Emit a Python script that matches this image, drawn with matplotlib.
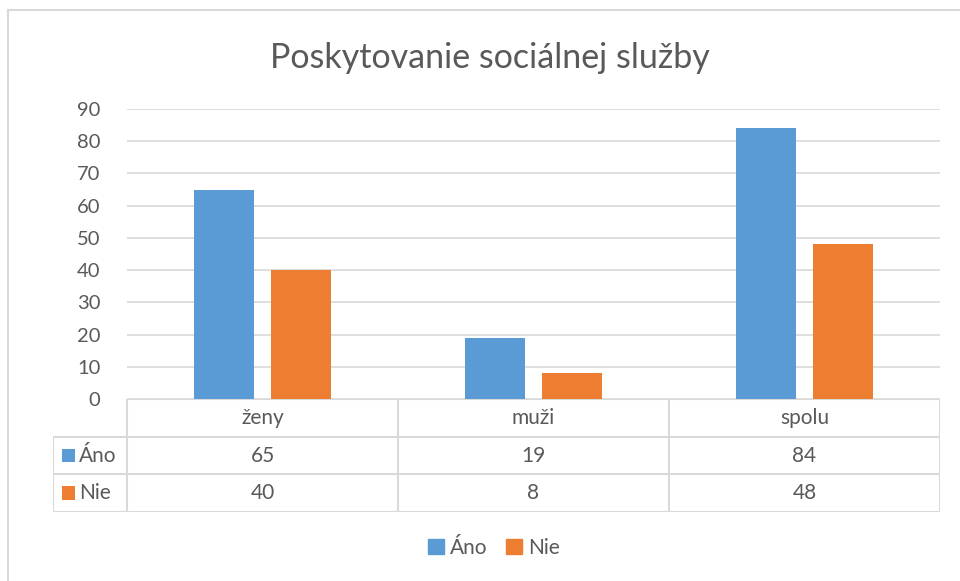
import numpy as np
import matplotlib.pyplot as plt
from matplotlib.lines import Line2D
from matplotlib.patches import Patch

plt.rcParams['font.family'] = ['Lato', 'DejaVu Sans']

# data
categories = ['ženy', 'muži', 'spolu']
series_names = ['Áno', 'Nie']
ano = [65, 19, 84]
nie = [40, 8, 48]
yticks = [0, 10, 20, 30, 40, 50, 60, 70, 80, 90]

blue = '#5B9BD5'
orange = '#ED7D31'
grid_c = '#D9D9D9'
text_c = '#595959'

W, H = 960, 581
fig = plt.figure(figsize=(W / 100, H / 100), dpi=100)


def fx(px):
    return px / W


def fy(py):
    return 1 - py / H


# main plot area
ax = fig.add_axes([fx(127), fy(399), fx(940) - fx(127), fy(109) - fy(399)])
x = np.arange(len(categories))
bw = 0.221
off = 0.142
ax.bar(x - off, ano, bw, color=blue, zorder=3)
ax.bar(x + off, nie, bw, color=orange, zorder=3)
ax.set_xlim(-0.5, len(categories) - 0.5)
ax.set_ylim(0, 90)
ax.set_yticks(yticks)
ax.set_xticks([])
ax.yaxis.grid(True, color=grid_c, lw=1.2)
ax.tick_params(axis='y', length=0, pad=19, labelsize=14.5, labelcolor=text_c)
for s in ax.spines.values():
    s.set_visible(False)

# data table below the plot
tab = fig.add_axes([fx(53), fy(512), fx(940) - fx(53), fy(399) - fy(512)])
unit = (940 - 127) / len(categories)
left = -0.5 - (127 - 53) / unit
tab.set_xlim(left, len(categories) - 0.5)
tab.set_ylim(3, 0)
tab.axis('off')

lkw = dict(color=grid_c, lw=1.5, solid_capstyle='butt')
# horizontal lines
tab.plot([-0.5, len(categories) - 0.5], [0, 0], **lkw)
for r in [1, 2, 3]:
    tab.plot([left, len(categories) - 0.5], [r, r], **lkw)
# vertical lines
for c in range(len(categories) + 1):
    tab.plot([c - 0.5, c - 0.5], [0, 3], **lkw)
tab.plot([left, left], [1, 3], **lkw)

fs = 15
for i, cat in enumerate(categories):
    tab.text(i, 0.5, cat, ha='center', va='center', fontsize=fs, color=text_c)
    tab.text(i, 1.5, str(ano[i]), ha='center', va='center', fontsize=fs, color=text_c)
    tab.text(i, 2.5, str(nie[i]), ha='center', va='center', fontsize=fs, color=text_c)

for r, (name, col) in enumerate(zip(series_names, [blue, orange])):
    sq = 13 / unit
    tab.add_patch(plt.Rectangle((left + 9 / unit, r + 1.5 - 0.18), sq, 0.36,
                                color=col, lw=0))
    tab.text(left + 26 / unit, r + 1.5, name, ha='left', va='center',
             fontsize=fs, color=text_c)

# title
fig.text(fx(490), fy(58), 'Poskytovanie sociálnej služby', ha='center', va='center',
         fontsize=24.5, color=text_c)

# legend
handles = [Patch(color=blue, label='Áno'), Patch(color=orange, label='Nie')]
fig.legend(handles=handles, loc='center', bbox_to_anchor=(fx(494), fy(548)), ncol=2,
           frameon=False, fontsize=fs, labelcolor=text_c, handlelength=0.75,
           handleheight=0.75, handletextpad=0.3, columnspacing=0.9)

# chart border
fig.add_artist(Line2D([fx(8), fx(8)], [fy(10), 0], color=grid_c, lw=1.5))
fig.add_artist(Line2D([fx(8), 1], [fy(10), fy(10)], color=grid_c, lw=1.5))

fig.savefig('out.png', dpi=100, facecolor='white')
